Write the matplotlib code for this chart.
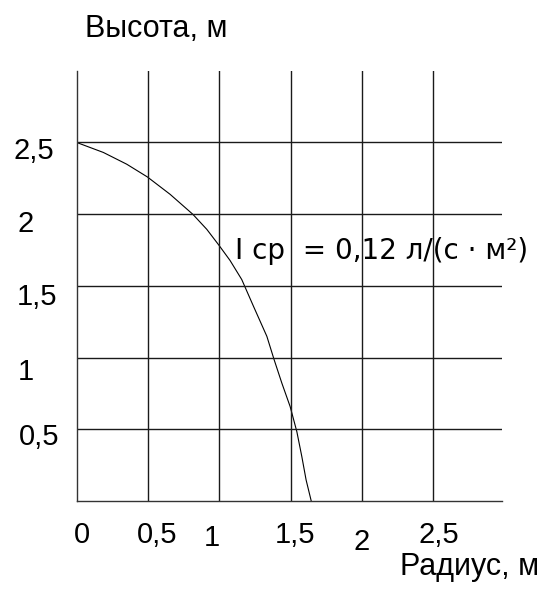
import matplotlib
import matplotlib.pyplot as plt
from matplotlib.transforms import offset_copy

matplotlib.pyplot.switch_backend("Agg")

# curve: radius (m) -> height (m)
radius = [0.0, 0.188, 0.352, 0.497, 0.656, 0.815, 0.913, 0.999, 1.076,
          1.158, 1.240, 1.334, 1.385, 1.439, 1.497, 1.544, 1.579, 1.609,
          1.645]
height = [2.5, 2.430, 2.348, 2.259, 2.138, 1.999, 1.894, 1.782, 1.677,
          1.544, 1.358, 1.148, 0.985, 0.822, 0.659, 0.484, 0.310, 0.147,
          0.0]

x_ticks = [0, 0.5, 1, 1.5, 2, 2.5]
x_labels = ["0", "0,5", "1", "1,5", "2", "2,5"]
y_ticks = [0.5, 1, 1.5, 2, 2.5]
y_labels = ["0,5", "1", "1,5", "2", "2,5"]

# label nudges in points (the original labels sit a bit off their lines)
x_label_dx = [4, 7, -5, 3.3, 0, 4]
x_label_dy = [-30.2, -30.2, -32.4, -30.2, -35.3, -30.2]
y_label_dx = [-26.6, -36.4, -28.4, -36.4, -30.6]
y_label_dy = [-11.3, -15.8, -14, -13, -12]

fig = plt.figure(figsize=(5.45, 5.9), dpi=100)
fig.patch.set_facecolor("white")
ax = fig.add_axes([0.1404, 0.1508, 0.7802, 0.7294])

ax.plot(radius, height, color="black", linewidth=0.8)

ax.set_xlim(0, 2.98)
ax.set_ylim(0, 3.0)
for x in x_ticks[1:]:
    ax.axvline(x, color="#1a1a1a", linewidth=1.0)
for y in y_ticks:
    ax.axhline(y, color="#1a1a1a", linewidth=1.0)

for side in ["top", "right"]:
    ax.spines[side].set_visible(False)
for side in ["left", "bottom"]:
    ax.spines[side].set_color("#333333")
    ax.spines[side].set_linewidth(1.0)
ax.set_xticks([])
ax.set_yticks([])

font = "Liberation Sans"
for x, lab, dx, dy in zip(x_ticks, x_labels, x_label_dx, x_label_dy):
    tr = offset_copy(ax.transData, fig=fig, x=dx, y=dy, units="points")
    ax.text(x, 0, lab, transform=tr, ha="center", va="baseline",
            fontsize=21, family=font, clip_on=False)
for y, lab, dx, dy in zip(y_ticks, y_labels, y_label_dx, y_label_dy):
    tr = offset_copy(ax.transData, fig=fig, x=dx, y=dy, units="points")
    ax.text(0, y, lab, transform=tr, ha="center", va="baseline",
            fontsize=21, family=font, clip_on=False)

fig.text(0.156, 0.937, "Высота, м", fontsize=22, family=font,
         ha="left", va="baseline")
fig.text(0.734, 0.0254, "Радиус, м", fontsize=22, family=font,
         ha="left", va="baseline")

ax.text(1.111, 1.684, "I cр  = 0,12 л/(с · м²)", fontsize=20,
        family="DejaVu Sans", ha="left", va="baseline", clip_on=False)

fig.savefig("out.png", dpi=100, facecolor="white")
